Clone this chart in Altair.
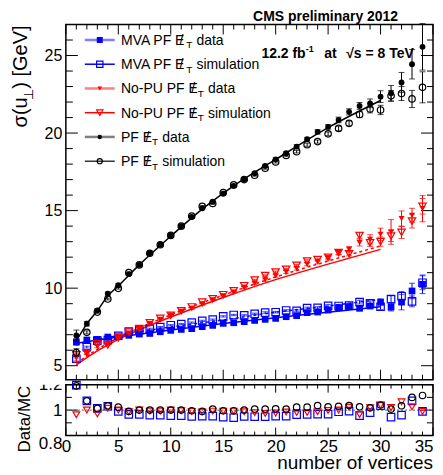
import altair as alt
import pandas as pd

FONT = "Liberation Sans"

# ---------------- data ----------------
nvtx = list(range(1, 35))

pf_data = [6.95, 7.71, 8.57, 9.65, 10.2, 10.9, 11.5, 12.25, 12.8, 13.4,
           14.0, 14.6, 15.15, 15.58, 16.1, 16.6, 17.02, 17.41, 17.88, 18.31,
           18.7, 19.13, 19.6, 20.08, 20.4, 20.85, 21.37, 21.75, 21.92, 22.35,
           22.57, 23.26, 24.44, 25.56]
pf_sim = [5.85, 7.15, 8.46, 9.3, 9.99, 11.0, 11.5, 12.25, 12.8, 13.4,
          14.0, 14.65, 15.28, 15.46, 16.16, 16.66, 17.0, 17.28, 17.74, 18.14,
          18.56, 18.8, 19.25, 19.45, 19.95, 20.3, 20.63, 21.2, 21.55, 21.49,
          22.4, 22.55, 22.2, 22.95]
nopu_data = [5.5, 5.84, 6.23, 6.44, 6.8, 7.08, 7.39, 7.71, 7.99, 8.25,
             8.5, 8.7, 8.96, 9.24, 9.5, 9.75, 10.03, 10.31, 10.53, 10.79,
             11.05, 11.26, 11.54, 11.69, 11.95, 12.29, 12.5, 12.94, 13.15, 13.47,
             13.63, 14.48, 14.7, 15.13]
nopu_sim = [5.7, 5.84, 6.42, 6.34, 6.8, 7.17, 7.39, 7.77, 8.05, 8.25,
            8.54, 8.79, 9.1, 9.31, 9.58, 9.83, 10.16, 10.52, 10.81, 11.04,
            11.22, 11.47, 11.75, 11.84, 11.99, 12.29, 12.22, 13.4, 12.92, 13.0,
            13.36, 13.6, 14.33, 15.28]
mva_data = [6.53, 6.66, 6.70, 6.85, 6.87, 6.96, 7.04, 7.08, 7.19, 7.28,
            7.34, 7.39, 7.52, 7.6, 7.73, 7.77, 7.84, 7.92, 7.99, 8.05,
            8.16, 8.23, 8.42, 8.46, 8.59, 8.74, 8.81, 8.7, 8.85, 9.1,
            8.78, 9.1, 9.82, 10.25]
mva_sim = [5.45, 6.2, 6.62, 6.65, 6.93, 7.2, 7.29, 7.38, 7.49, 7.61,
           7.68, 7.78, 7.89, 7.97, 8.18, 8.27, 8.25, 8.35, 8.43, 8.45,
           8.56, 8.54, 8.72, 8.73, 8.86, 8.85, 8.88, 9.1, 9.03, 8.8,
           9.29, 9.48, 9.15, 10.35]

pf_data_err = [0.35, 0.15, 0.1, 0.1, 0.08, 0.08, 0.08, 0.08, 0.08, 0.08,
               0.08, 0.08, 0.08, 0.08, 0.08, 0.08, 0.08, 0.1, 0.1, 0.1,
               0.1, 0.12, 0.12, 0.14, 0.15, 0.18, 0.2, 0.22, 0.28, 0.38,
               0.5, 0.65, 0.95, 1.5]
pf_sim_err = [0.25, 0.1, 0.08, 0.06, 0.05, 0.05, 0.05, 0.05, 0.05, 0.05,
              0.05, 0.05, 0.05, 0.05, 0.05, 0.05, 0.06, 0.06, 0.07, 0.07,
              0.08, 0.08, 0.1, 0.1, 0.12, 0.14, 0.16, 0.2, 0.25, 0.3,
              0.35, 0.45, 0.55, 1.0]
nopu_data_err = [0.3, 0.12, 0.08, 0.07, 0.06, 0.06, 0.06, 0.06, 0.06, 0.06,
                 0.06, 0.06, 0.06, 0.06, 0.06, 0.06, 0.07, 0.07, 0.08, 0.08,
                 0.09, 0.1, 0.1, 0.12, 0.13, 0.15, 0.18, 0.22, 0.3, 0.4,
                 0.8, 0.5, 0.45, 0.85]
nopu_sim_err = [0.2, 0.08, 0.06, 0.05, 0.04, 0.04, 0.04, 0.04, 0.04, 0.04,
                0.04, 0.04, 0.04, 0.04, 0.04, 0.04, 0.05, 0.05, 0.05, 0.06,
                0.06, 0.07, 0.08, 0.09, 0.1, 0.12, 0.14, 0.18, 0.22, 0.3,
                0.35, 0.4, 0.45, 0.5]
mva_data_err = [0.2, 0.08, 0.06, 0.05, 0.05, 0.05, 0.05, 0.05, 0.05, 0.05,
                0.05, 0.05, 0.05, 0.05, 0.05, 0.05, 0.05, 0.05, 0.06, 0.06,
                0.06, 0.07, 0.07, 0.08, 0.09, 0.1, 0.12, 0.14, 0.17, 0.2,
                0.25, 0.5, 0.5, 0.6]
mva_sim_err = [0.15, 0.06, 0.05, 0.04, 0.04, 0.04, 0.04, 0.04, 0.04, 0.04,
               0.04, 0.04, 0.04, 0.04, 0.04, 0.04, 0.04, 0.04, 0.05, 0.05,
               0.05, 0.06, 0.06, 0.07, 0.08, 0.09, 0.1, 0.12, 0.15, 0.18,
               0.22, 0.3, 0.35, 0.45]

ratio_pf = [1.19, 1.073, 1.013, 1.034, 1.023, 0.99, 1.0, 1.0, 1.0, 1.0,
            1.0, 0.995, 0.99, 1.008, 0.995, 0.995, 1.0, 1.008, 1.008, 1.01,
            1.008, 1.023, 1.023, 1.036, 1.026, 1.03, 1.036, 1.026, 1.018, 1.04,
            1.008, 1.034, 1.10, 1.115]
ratio_nopu = [0.964, 1.0, 0.97, 1.015, 1.0, 0.987, 1.0, 0.992, 0.992, 1.0,
              0.995, 0.99, 0.985, 0.992, 0.992, 0.992, 0.987, 0.98, 0.974, 0.977,
              0.985, 0.982, 0.982, 0.987, 0.997, 1.0, 1.023, 0.966, 1.018, 1.036,
              1.02, 1.065, 1.026, 0.99]
ratio_mva = [1.197, 1.073, 1.013, 1.03, 0.99, 0.966, 0.966, 0.96, 0.96, 0.956,
             0.956, 0.95, 0.953, 0.953, 0.945, 0.94, 0.95, 0.948, 0.948, 0.953,
             0.953, 0.964, 0.966, 0.969, 0.969, 0.987, 0.992, 0.956, 0.98, 1.034,
             0.945, 0.96, 1.073, 0.99]

# fit curves (nodes)
fit_pf_n = [1, 2, 3, 4, 5, 7, 10, 13, 16, 20, 25, 30]
fit_pf_v = [6.6, 7.7, 8.55, 9.5, 10.15, 11.5, 13.35, 15.1, 16.6, 18.3, 20.35, 22.1]
fit_nopu_n = [1, 3, 5, 8, 11, 15, 20, 25, 30]
fit_nopu_data_v = [5.05, 5.95, 6.7, 7.6, 8.4, 9.4, 10.55, 11.55, 12.5]
fit_nopu_sim_v = [5.15, 6.05, 6.8, 7.72, 8.55, 9.55, 10.72, 11.75, 12.72]
fit_mva_n = [1, 5, 10, 15, 20, 25, 30]
fit_mva_data_v = [6.45, 6.85, 7.3, 7.72, 8.1, 8.45, 8.8]
fit_mva_sim_v = [6.35, 6.95, 7.5, 7.95, 8.45, 8.85, 9.28]

x_major = [0, 5, 10, 15, 20, 25, 30, 35]
x_minor = [i for i in range(36) if i % 5 != 0]
y_major = [5, 10, 15, 20, 25]
y_minor = [v for v in range(5, 28) if v % 5 != 0]
r_major = [0.8, 1.0, 1.2]
r_minor = [0.9, 1.1]

# ---------------- layout ----------------
W, H, RH = 368, 356, 51
BLUE, RED = "#0000ff", "#ff0000"

xs = alt.Scale(domain=[0, 35], nice=False, zero=False)
ys = alt.Scale(domain=[4.1, 27], nice=False, zero=False)
rs = alt.Scale(domain=[0.8, 1.2], nice=False, zero=False)

main_y_axis = alt.Axis(values=y_major, ticks=False, domain=False, grid=False,
                       labelFont=FONT, labelFontSize=16, labelPadding=4,
                       labelColor="black", title=None)
X = alt.X("n:Q", scale=xs, axis=None)
Y = alt.Y("v:Q", scale=ys, axis=main_y_axis)

ratio_x_axis = alt.Axis(values=x_major, ticks=False, domain=False, grid=False,
                        labelFont=FONT, labelFontSize=17, labelPadding=3,
                        labelColor="black", labelFlush=False, labelOverlap=False,
                        labelAlign={"condition": {"test": "datum.value == 35", "value": "right"},
                                    "value": "center"},
                        title=None)
ratio_y_axis = alt.Axis(values=r_major, ticks=False, domain=False, grid=False,
                        labelFont=FONT, labelFontSize=17, labelPadding=4,
                        labelColor="black", labelOverlap=False,
                        labelBaseline={"condition": {"test": "datum.value < 0.85", "value": "top"},
                                       "value": "middle"},
                        labelExpr="datum.value == 1 ? '1' : format(datum.value, '.1f')",
                        title=None)
RX = alt.X("n:Q", scale=xs, axis=ratio_x_axis)
RY = alt.Y("v:Q", scale=rs, axis=ratio_y_axis)


def one():
    return alt.Data(values=[{}])


def txt(s, x, y, size, weight="normal", align="left", angle=0, color="black"):
    return alt.Chart(one()).mark_text(
        text=s, font=FONT, fontSize=size, fontWeight=weight, align=align,
        baseline="alphabetic", angle=angle, color=color
    ).encode(x=alt.value(x), y=alt.value(y))


def series_df(vals, errs):
    return pd.DataFrame({"n": nvtx, "v": vals,
                         "lo": [v - e for v, e in zip(vals, errs)],
                         "hi": [v + e for v, e in zip(vals, errs)]})


def ticks_x(values, y0, y1, xenc):
    return alt.Chart(pd.DataFrame({"n": values})).mark_rule(
        color="black", strokeWidth=1).encode(x=xenc, y=alt.value(y0), y2=alt.value(y1))


def ticks_y(values, x0, x1, yenc):
    return alt.Chart(pd.DataFrame({"v": values})).mark_rule(
        color="black", strokeWidth=1).encode(y=yenc, x=alt.value(x0), x2=alt.value(x1))


layers = []
# inward ticks on all four sides
layers += [ticks_x(x_major, H, H - 10, X), ticks_x(x_minor, H, H - 5, X),
           ticks_x(x_major, 0, 10, X), ticks_x(x_minor, 0, 5, X),
           ticks_y(y_major, 0, 12, Y), ticks_y(y_minor, 0, 7, Y),
           ticks_y(y_major, W, W - 12, Y), ticks_y(y_minor, W, W - 6, Y)]

# fit lines
def fit(ns, vs, color, dash=None, width=1.5):
    kw = dict(interpolate="monotone", color=color, strokeWidth=width)
    if dash:
        kw["strokeDash"] = dash
    return alt.Chart(pd.DataFrame({"n": ns, "v": vs})).mark_line(**kw).encode(x=X, y=Y)

layers += [fit(fit_mva_n, fit_mva_sim_v, BLUE, [3, 3]),
           fit(fit_mva_n, fit_mva_data_v, BLUE),
           fit(fit_nopu_n, fit_nopu_sim_v, RED, [3, 3]),
           fit(fit_nopu_n, fit_nopu_data_v, RED),
           fit(fit_pf_n, fit_pf_v, "black")]

series = [
    (mva_sim, mva_sim_err, "square", False, BLUE, 56),
    (mva_data, mva_data_err, "square", True, BLUE, 45),
    (nopu_sim, nopu_sim_err, "triangle-down", False, RED, 55),
    (nopu_data, nopu_data_err, "triangle-down", True, RED, 36),
    (pf_sim, pf_sim_err, "circle", False, "black", 42),
    (pf_data, pf_data_err, "circle", True, "black", 34),
]
for vals, errs, shape, filled, color, size in series:
    df = series_df(vals, errs)
    base = alt.Chart(df)
    layers.append(base.mark_rule(color=color, strokeWidth=1).encode(
        x=X, y=alt.Y("lo:Q", scale=ys, axis=main_y_axis), y2="hi:Q"))
    layers.append(base.mark_tick(color=color, orient="horizontal", size=6, thickness=1).encode(
        x=X, y=alt.Y("lo:Q", scale=ys, axis=main_y_axis)))
    layers.append(base.mark_tick(color=color, orient="horizontal", size=6, thickness=1).encode(
        x=X, y=alt.Y("hi:Q", scale=ys, axis=main_y_axis)))
    layers.append(base.mark_point(shape=shape, filled=filled, size=size, color=color,
                                  strokeWidth=1.2, opacity=1).encode(x=X, y=Y))

# legend (drawn by hand, ROOT style)
legend_rows = [
    ("MVA PF E", "data", 65.35, "square", True, BLUE, "#7f7fff", 2.5, 36),
    ("MVA PF E", "simulation", 65.35, "square", False, BLUE, BLUE, 1.5, 40),
    ("No-PU PF E", "data", 77.0, "triangle-down", True, RED, "#ff7f7f", 2.5, 22),
    ("No-PU PF E", "simulation", 77.0, "triangle-down", False, RED, RED, 1.5, 40),
    ("PF E", "data", 31.1, "circle", True, "black", "#7f7f7f", 2.5, 20),
    ("PF E", "simulation", 31.1, "circle", False, "black", "black", 1.2, 26),
]
TX0 = 55.3
for i, (pre, suf, pw, shape, filled, mcol, lcol, lw, msize) in enumerate(legend_rows):
    yc = 15.5 + 24.3 * i
    layers.append(alt.Chart(one()).mark_rule(color=lcol, strokeWidth=lw).encode(
        x=alt.value(19), x2=alt.value(49), y=alt.value(yc)))
    layers.append(alt.Chart(one()).mark_point(shape=shape, filled=filled, size=msize,
                                              color=mcol, strokeWidth=1.2, opacity=1).encode(
        x=alt.value(34), y=alt.value(yc)))
    layers.append(txt(pre, TX0, yc + 5, 14))
    layers.append(txt("/", TX0 + pw - 4.7, yc + 5, 14, align="center"))
    layers.append(txt("T", TX0 + pw, yc + 8.5, 10))
    layers.append(txt(suf, TX0 + pw + 10.2, yc + 5, 14))

# header texts
layers.append(txt("CMS preliminary 2012", 333, -4, 14, weight="bold", align="right"))
layers.append(txt("12.2 fb", 196, 34, 14, weight="bold"))
layers.append(txt("-1", 240.5, 28, 9, weight="bold"))
layers.append(txt("at", 259, 34, 14, weight="bold"))
layers.append(txt("\u221as = 8 TeV", 281, 34, 14, weight="bold"))

# y title  sigma(u_perp) [GeV]
layers.append(txt(") [GeV]", -39, 1, 20, align="right", angle=270))
layers.append(txt("\u22a5", -33, 64.5, 13, align="right", angle=270))
layers.append(txt("\u03c3(u", -39, 73, 20, align="right", angle=270))

main = alt.layer(*layers).properties(width=W, height=H)

# ---------------- ratio panel ----------------
rl = []
rl += [ticks_x(x_major, RH, RH - 8, RX), ticks_x(x_minor, RH, RH - 4, RX),
       ticks_x(x_major, 0, 8, RX), ticks_x(x_minor, 0, 4, RX),
       ticks_y(r_major, 0, 12, RY), ticks_y(r_minor, 0, 6, RY),
       ticks_y(r_major, W, W - 12, RY), ticks_y(r_minor, W, W - 6, RY)]
rl.append(alt.Chart(pd.DataFrame({"v": [1.0]})).mark_rule(
    color="#555555", strokeWidth=1, strokeDash=[2, 2]).encode(
    y=RY, x=alt.value(0), x2=alt.value(W)))
for vals, shape, color, size in [(ratio_mva, "square", BLUE, 56),
                                 (ratio_nopu, "triangle-down", RED, 45),
                                 (ratio_pf, "circle", "black", 42)]:
    rl.append(alt.Chart(pd.DataFrame({"n": nvtx, "v": vals})).mark_point(
        shape=shape, filled=False, size=size, color=color, strokeWidth=1.2,
        opacity=1).encode(x=RX, y=RY))
# mask the upper half of the topmost label (hidden under the main pad)
rl.append(alt.Chart(one()).mark_rect(color="white").encode(
    x=alt.value(-40), x2=alt.value(-1), y=alt.value(-8), y2=alt.value(0)))
rl.append(txt("Data/MC", -36, 1, 17, align="right", angle=270))
rl.append(txt("number of vertices", W, 85, 19, align="right"))

ratio = alt.layer(*rl).properties(width=W, height=RH)

chart = alt.vconcat(main, ratio, spacing=5, bounds="flush").properties(
    padding={"left": 2, "top": 0, "right": 0, "bottom": 0}
).configure_view(stroke="black", strokeWidth=1.5)

chart.save("out.html", embed_options={"renderer": "svg", "actions": False})
